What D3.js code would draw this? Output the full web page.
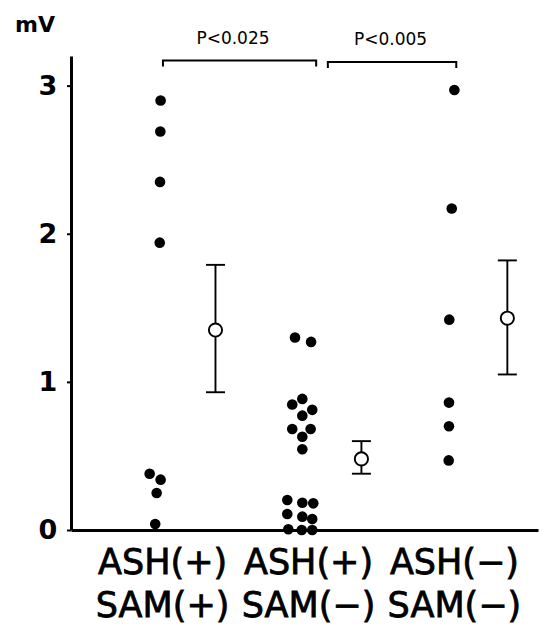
<!DOCTYPE html>
<html>
<head>
<meta charset="utf-8">
<script src="https://cdn.jsdelivr.net/npm/d3@7/dist/d3.min.js"></script>
<style>
  html, body { margin: 0; padding: 0; background: #fff; }
  svg { display: block; }
</style>
</head>
<body>
<svg id="chart" width="544" height="631"></svg>
<script>
// groups, left to right
const categoryLines = [
  ["ASH(+)", "SAM(+)"],
  ["ASH(+)", "SAM(−)"],
  ["ASH(−)", "SAM(−)"]
];

// individual values (mV) and small sideways offsets used to separate overlapping dots
const g1Values = [2.90, 2.69, 2.35, 1.94, 0.38, 0.34, 0.25, 0.04];
const g1Jitter = [0.014, 0.012, 0.01, 0.008, -0.061, 0.014, -0.013, -0.023];

const g2Values = [1.30, 1.27, 0.885, 0.847, 0.811, 0.772, 0.682, 0.682, 0.630, 0.545,
                  0.203, 0.184, 0.180, 0.108, 0.090, 0.074, 0.005, 0.0, 0.0];
const g2Jitter = [-0.065, 0.045, -0.015, -0.084, 0.053, -0.015, -0.084, 0.042, -0.015, -0.015,
                  -0.118, -0.015, 0.060, -0.118, -0.015, 0.053, -0.111, -0.019, 0.053];

const g3Values = [2.97, 2.17, 1.42, 0.86, 0.70, 0.47];
const g3Jitter = [0.027, 0.009, -0.008, -0.01, -0.01, -0.012];

// mean +/- SE per group
const means = [1.35, 0.48, 1.43];
const errUpper = [1.79, 0.60, 1.82];
const errLower = [0.93, 0.38, 1.05];
const meanOffset = 0.39;

// significance brackets
const comparisons = [
  { from: 1.03, to: 2.08, level: 3.17, labelAt: 1.51, label: "P<0.025" },
  { from: 2.16, to: 3.04, level: 3.16, labelAt: 2.59, label: "P<0.005" }
];

const yTicks = [0, 1, 2, 3];
const yUnit = "mV";

const svg = d3.select("#chart");

const x = d3.scaleLinear().domain([0.4, 3.6]).range([71, 538]);
const y = d3.scaleLinear().domain([0, 3.2]).range([530, 56]);

const groups = [
  { values: g1Values, jitter: g1Jitter },
  { values: g2Values, jitter: g2Jitter },
  { values: g3Values, jitter: g3Jitter }
];

// axes
const yAxis = svg.append("g")
  .attr("transform", `translate(${x(0.4)},0)`)
  .call(d3.axisLeft(y).tickValues(yTicks).tickSize(4).tickSizeOuter(0).tickFormat(d3.format("d")));
yAxis.select(".domain").attr("stroke", "#000").attr("stroke-width", 3);
yAxis.selectAll(".tick line").attr("stroke", "#000").attr("stroke-width", 2);
yAxis.selectAll(".tick text")
  .attr("x", -23)
  .attr("text-anchor", "middle")
  .attr("font-family", "DejaVu Sans, sans-serif")
  .attr("font-weight", "bold")
  .attr("font-size", 27)
  .attr("fill", "#000");

const xAxis = svg.append("g")
  .attr("transform", `translate(0,${y(0)})`)
  .call(d3.axisBottom(x).tickValues([]).tickSizeOuter(0));
xAxis.select(".domain").attr("stroke", "#000").attr("stroke-width", 3);

svg.append("text")
  .attr("x", 15)
  .attr("y", 32)
  .attr("font-family", "DejaVu Sans, sans-serif")
  .attr("font-weight", "bold")
  .attr("font-size", 22)
  .text(yUnit);

// category labels (thin outline to match the heavier print)
categoryLines.forEach((lines, i) => {
  const t = svg.append("text")
    .attr("text-anchor", "middle")
    .attr("font-family", "DejaVu Sans, sans-serif")
    .attr("font-size", 35)
    .attr("fill", "#000")
    .attr("stroke", "#000")
    .attr("stroke-width", 0.8);
  lines.forEach((line, j) => {
    t.append("tspan")
      .attr("x", x(i + 1) + 4)
      .attr("y", 574 + j * 43)
      .text(line);
  });
});

// error bars with open mean circles
groups.forEach((g, i) => {
  const cx = x(i + 1 + meanOffset);
  const bar = svg.append("g").attr("stroke", "#000").attr("stroke-width", 1.9);
  bar.append("line")
    .attr("x1", cx).attr("x2", cx)
    .attr("y1", y(errUpper[i])).attr("y2", y(errLower[i]));
  [errUpper[i], errLower[i]].forEach(v => {
    bar.append("line")
      .attr("x1", cx - 9.5).attr("x2", cx + 9.5)
      .attr("y1", y(v)).attr("y2", y(v));
  });
  bar.append("circle")
    .attr("cx", cx)
    .attr("cy", y(means[i]))
    .attr("r", 6.6)
    .attr("fill", "#fff");
});

// individual dots
groups.forEach((g, i) => {
  svg.append("g")
    .selectAll("circle")
    .data(g.values)
    .join("circle")
    .attr("cx", (d, k) => x(i + 1 + g.jitter[k]))
    .attr("cy", d => y(d))
    .attr("r", 5.3)
    .attr("fill", "#000");
});

// significance brackets
comparisons.forEach(c => {
  const yb = y(c.level);
  svg.append("path")
    .attr("d", `M${x(c.from)},${yb + 6}V${yb}H${x(c.to)}V${yb + 6}`)
    .attr("fill", "none")
    .attr("stroke", "#000")
    .attr("stroke-width", 2);
  svg.append("text")
    .attr("x", x(c.labelAt))
    .attr("y", yb - 16.5)
    .attr("text-anchor", "middle")
    .attr("font-family", "DejaVu Sans, sans-serif")
    .attr("font-size", 17)
    .attr("fill", "#000")
    .text(c.label);
});
</script>
</body>
</html>
